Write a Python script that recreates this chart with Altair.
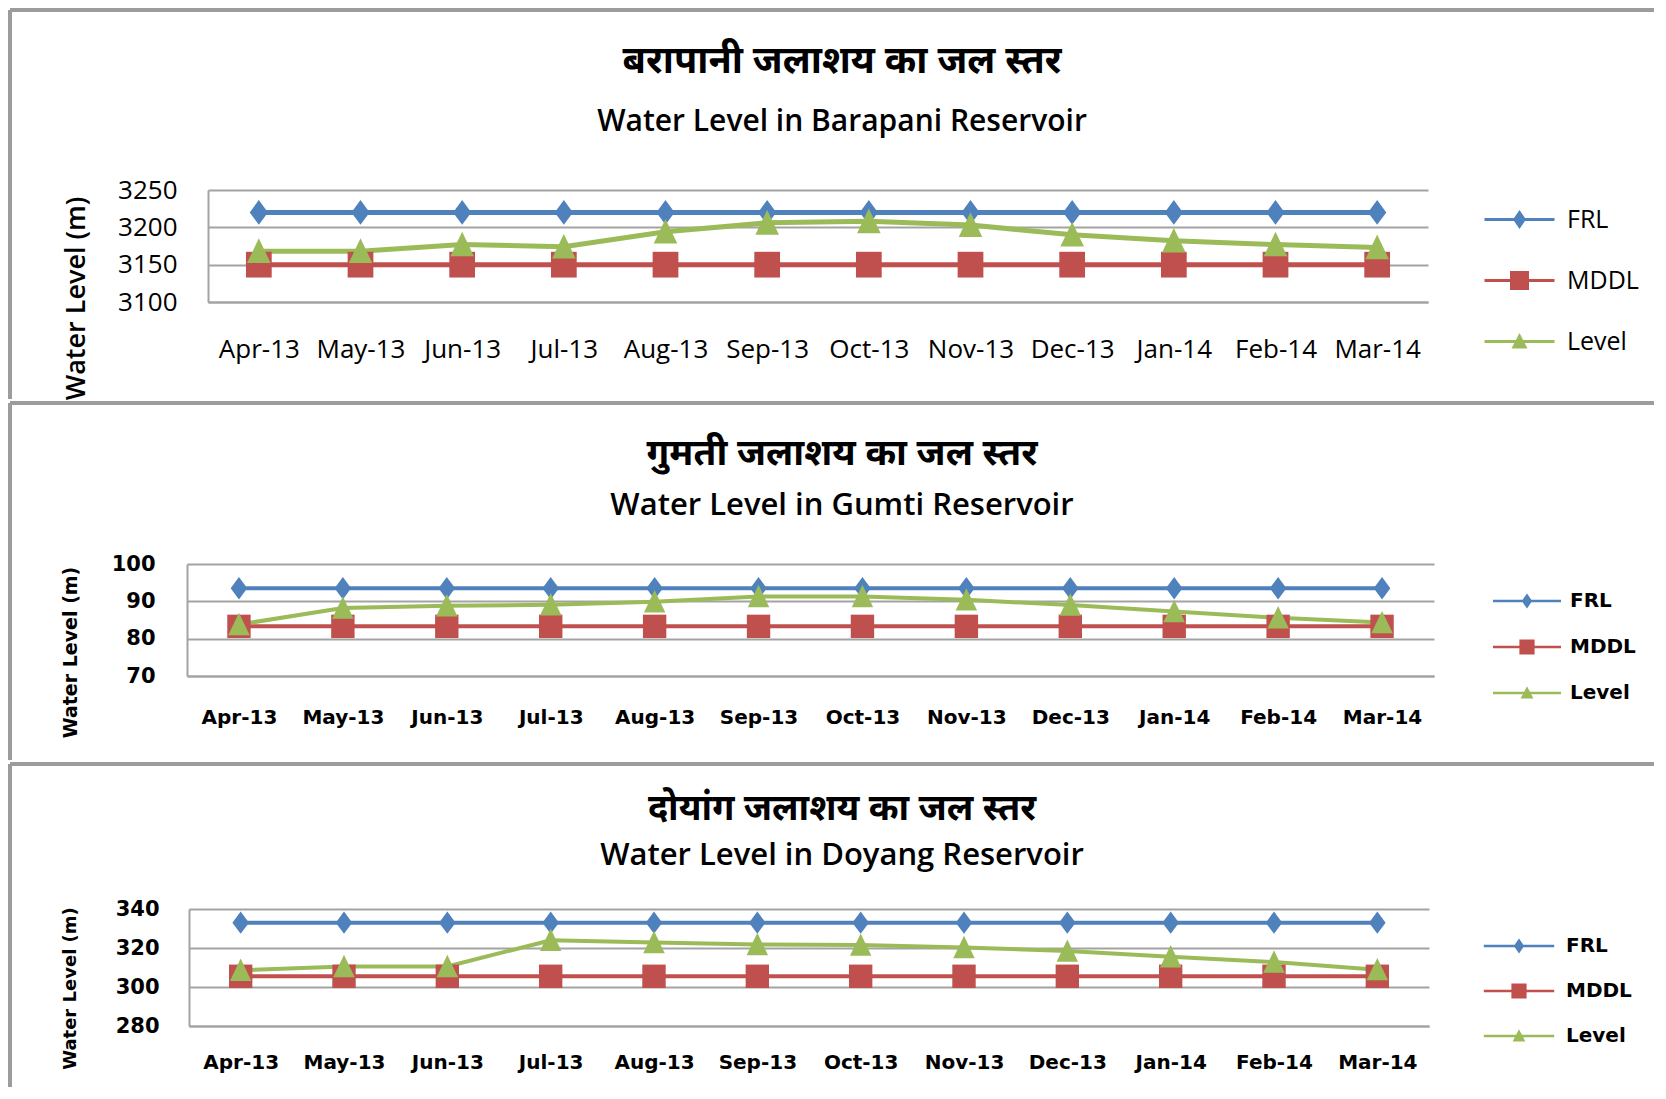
import altair as alt
import pandas as pd

months = ["Apr-13", "May-13", "Jun-13", "Jul-13", "Aug-13", "Sep-13",
          "Oct-13", "Nov-13", "Dec-13", "Jan-14", "Feb-14", "Mar-14"]
series = ["FRL", "MDDL", "Level"]
colors = ["#4F81BD", "#C0504D", "#9BBB59"]

barapani_frl = [3220, 3220, 3220, 3220, 3220, 3220, 3220, 3220, 3220, 3220, 3220, 3220]
barapani_mddl = [3150, 3150, 3150, 3150, 3150, 3150, 3150, 3150, 3150, 3150, 3150, 3150]
barapani_level = [3168, 3168, 3177, 3174, 3194, 3206, 3208, 3203, 3190, 3182, 3177, 3173]

gumti_frl = [93.5, 93.5, 93.5, 93.5, 93.5, 93.5, 93.5, 93.5, 93.5, 93.5, 93.5, 93.5]
gumti_mddl = [83.3, 83.3, 83.3, 83.3, 83.3, 83.3, 83.3, 83.3, 83.3, 83.3, 83.3, 83.3]
gumti_level = [83.8, 88.2, 88.8, 89.1, 89.9, 91.3, 91.3, 90.4, 89.0, 87.3, 85.6, 84.3]

doyang_frl = [333, 333, 333, 333, 333, 333, 333, 333, 333, 333, 333, 333]
doyang_mddl = [305.5, 305.5, 305.5, 305.5, 305.5, 305.5, 305.5, 305.5, 305.5, 305.5, 305.5, 305.5]
doyang_level = [308.6, 310.5, 310.5, 324.0, 322.8, 321.8, 321.5, 320.3, 318.4, 315.5, 312.8, 308.9]

titles_hindi = ["बरापानी जलाशय का जल स्तर", "गुमती जलाशय का जल स्तर", "दोयांग जलाशय का जल स्तर"]
titles_english = ["Water Level in Barapani Reservoir", "Water Level in Gumti Reservoir",
                  "Water Level in Doyang Reservoir"]
y_title = "Water Level (m)"

EN = "Open Sans"
DV = "DejaVu Sans"
DEVA = "Noto Sans Devanagari, Lohit Devanagari, Mangal, FreeSans, Noto Sans, sans-serif"
GRID = "#a3a3a3"
BORDER = "#9c9c9c"
G = 187  # common page x of every panel's group origin

marker_paths = ["M0,-1.15L0.85,0L0,1.15L-0.85,0Z",
                "M-1.2,-1.2L1.2,-1.2L1.2,1.2L-1.2,1.2Z",
                "M0,-1.2L1.1,1.1L-1.1,1.1Z"]


def legend_paths(half_len, t):
    bar = f"M{-half_len},{-t}L{half_len},{-t}L{half_len},{t}L{-half_len},{t}Z"
    return [bar + " M0,-0.95L0.65,0L0,0.95L-0.65,0Z",
            bar + " M-0.95,-0.95L0.95,-0.95L0.95,0.95L-0.95,0.95Z",
            bar + " M0,-0.85L0.8,0.7L-0.8,0.7Z"]


def long_df(frl, mddl, level):
    rows = []
    for name, vals in zip(series, [frl, mddl, level]):
        for m, v in zip(months, vals):
            rows.append({"month": m, "series": name, "value": v})
    return pd.DataFrame(rows)


def panel(df, c):
    ox = c["ox"]  # page x of the plot's left edge
    sh = ox - G
    x = alt.X("month:N", sort=months,
              scale=alt.Scale(type="point", padding=0.5, range=[sh, sh + c["width"]]),
              axis=alt.Axis(title=None, labelAngle=0, ticks=False, grid=False,
                            domain=True, domainColor=GRID, domainWidth=2,
                            labelPadding=c["xpad"], labelFont=c["lfont"],
                            labelFontSize=c["xfs"], labelFontWeight=c["lweight"],
                            labelColor="black"))
    y = alt.Y("value:Q", scale=alt.Scale(domain=c["domain"], nice=False, zero=False),
              axis=alt.Axis(values=c["ticks"], format="d", title=y_title, offset=-sh,
                            titleX=c["tcx"] - ox, titleY=c["ty"], titleBaseline="middle",
                            titleFont=c["tfont"], titleFontSize=c["tfs"],
                            titleFontWeight=c["tweight"], titleColor="black",
                            ticks=False, grid=True, gridColor=GRID, gridWidth=2,
                            domain=True, domainColor=GRID, domainWidth=2,
                            labelPadding=ox - c["ylab_right"], labelFont=c["lfont"],
                            labelFontSize=c["yfs"], labelFontWeight=c["lweight"],
                            labelColor="black"))
    half = c["ssize"] ** 0.5 / 2
    leg = alt.Legend(orient="none", legendX=c["lcx"] - G - half, legendY=c["ly"], title=None,
                     symbolSize=c["ssize"], symbolStrokeWidth=0, symbolOpacity=1,
                     labelFont=c["lfont"], labelFontSize=c["lgfs"],
                     labelFontWeight=c["lweight"], labelColor="black",
                     labelOffset=c["loff"], rowPadding=c["rowpad"], padding=0)
    cscale = alt.Scale(domain=series, range=colors)
    color = alt.Color("series:N", scale=cscale, legend=leg)
    base = alt.Chart(df).encode(x=x, y=y, color=color)
    layers = [base.mark_line(strokeWidth=c["lw"])]
    for s, p in zip(series, marker_paths):
        layers.append(base.transform_filter(alt.datum.series == s)
                      .mark_point(shape=p, filled=True, size=c["msize"], opacity=1,
                                  strokeWidth=0))
    legend_layer = (alt.Chart(df).transform_filter("false")
                    .mark_point(filled=True, opacity=1, strokeWidth=0)
                    .encode(color=color,
                            shape=alt.Shape("series:N",
                                            scale=alt.Scale(domain=series,
                                                            range=legend_paths(*c["lpath"])),
                                            legend=leg)))
    one = pd.DataFrame({"k": [0]})
    bh = alt.Chart(one).mark_rule(color=BORDER, strokeWidth=4).encode(
        x=alt.value(10 - G), x2=alt.value(1654 - G), y=alt.value(c["btop"]))
    bv = alt.Chart(one).mark_rule(color=BORDER, strokeWidth=4).encode(
        x=alt.value(10 - G), y=alt.value(c["btop"]), y2=alt.value(c["bbot"]))
    t_hi = alt.Chart(pd.DataFrame({"t": [c["hindi"]]})).mark_text(
        font=DEVA, fontSize=c["hfs"], fontWeight="bold", color="black",
        align="center", baseline="middle").encode(
        text="t:N", x=alt.value(842 - G), y=alt.value(c["hy"]))
    t_en = alt.Chart(pd.DataFrame({"t": [c["english"]]})).mark_text(
        font=EN, fontSize=c["efs"], fontWeight=600, color="black",
        align="center", baseline="middle").encode(
        text="t:N", x=alt.value(842 - G), y=alt.value(c["ey"]))
    return alt.layer(bh, bv, t_hi, t_en, *layers, legend_layer).properties(
        width=c["width"], height=c["height"])


p1 = panel(long_df(barapani_frl, barapani_mddl, barapani_level), dict(
    ox=208, width=1220, height=112, domain=[3100, 3250], ticks=[3100, 3150, 3200, 3250],
    lw=5, msize=460, lfont=EN, lweight="normal", xfs=26, yfs=26, xpad=34, ylab_right=177,
    tfont=EN, tfs=27, tweight=600, tcx=76, ty=108,
    lcx=1517, ly=17, ssize=400, lgfs=25, loff=35, rowpad=35, lpath=(3.5, 0.16),
    btop=-180, bbot=209, hindi=titles_hindi[0], english=titles_english[0],
    hfs=38, efs=30, hy=-128, ey=-68))

p2 = panel(long_df(gumti_frl, gumti_mddl, gumti_level), dict(
    ox=187, width=1247, height=112, domain=[70, 100], ticks=[70, 80, 90, 100],
    lw=4, msize=380, lfont=DV, lweight="bold", xfs=20, yfs=21, xpad=31, ylab_right=155,
    tfont=DV, tfs=19, tweight="bold", tcx=70, ty=88,
    lcx=1525, ly=27, ssize=256, lgfs=20, loff=33, rowpad=26, lpath=(4.25, 0.17),
    btop=-161, bbot=196, hindi=titles_hindi[1], english=titles_english[1],
    hfs=37, efs=31, hy=-110, ey=-58))

p3 = panel(long_df(doyang_frl, doyang_mddl, doyang_level), dict(
    ox=189, width=1240, height=117, domain=[280, 340], ticks=[280, 300, 320, 340],
    lw=4, msize=380, lfont=DV, lweight="bold", xfs=20, yfs=21, xpad=26, ylab_right=159,
    tfont=DV, tfs=18, tweight="bold", tcx=70, ty=79,
    lcx=1517, ly=27, ssize=256, lgfs=20, loff=37, rowpad=25, lpath=(4.4, 0.17),
    btop=-145, bbot=178, hindi=titles_hindi[2], english=titles_english[2],
    hfs=36, efs=31, hy=-100, ey=-53))

chart = alt.vconcat(p1, p2, p3, spacing=0).resolve_scale(
    color="independent", shape="independent"
).resolve_legend(
    color="independent", shape="independent"
).properties(
    padding={"left": 0, "top": 0, "right": 0, "bottom": 0}
).configure_view(stroke=None)

chart.save("out.html", embed_options={"renderer": "svg", "actions": False})
